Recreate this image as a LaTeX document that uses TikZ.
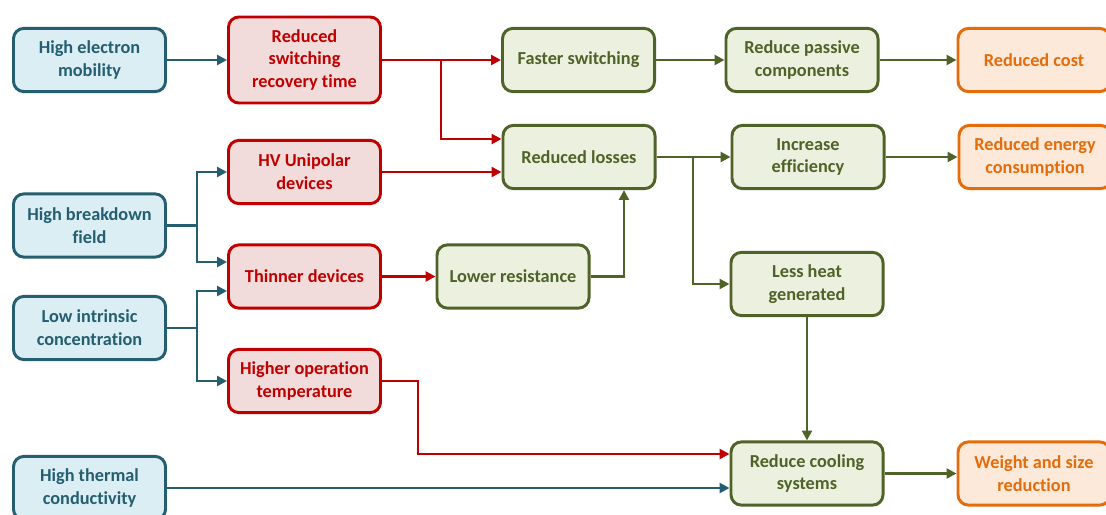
\documentclass[tikz,border=0pt]{standalone}
\usepackage{fontspec}
\setmainfont{Carlito}[Ligatures=NoCommon]
\usetikzlibrary{arrows.meta}

\definecolor{propline}{RGB}{36,94,112}
\definecolor{propfill}{RGB}{218,238,243}
\definecolor{devline}{RGB}{192,0,0}
\definecolor{devfill}{RGB}{242,220,219}
\definecolor{effline}{RGB}{79,98,40}
\definecolor{efffill}{RGB}{235,241,222}
\definecolor{gainline}{RGB}{228,108,10}
\definecolor{gainfill}{RGB}{253,233,217}

\tikzset{
  box/.style={rectangle, rounded corners=0.26cm, line width=2.1pt, align=center,
    minimum width=3.8cm, minimum height=1.58cm, inner sep=2pt,
    font=\fontsize{13}{16.2}\selectfont\bfseries},
  prop/.style={box, draw=propline, fill=propfill, text=propline},
  dev/.style={box, draw=devline, fill=devfill, text=devline},
  eff/.style={box, draw=effline, fill=efffill, text=effline},
  gain/.style={box, draw=gainline, fill=gainfill, text=gainline},
  proparr/.style={-{Triangle[length=7pt,width=7pt]}, line width=2.1pt, draw=propline},
  devarr/.style={-{Triangle[length=7pt,width=7pt]}, line width=2.1pt, draw=devline},
  effarr/.style={-{Triangle[length=7pt,width=7pt]}, line width=2.1pt, draw=effline},
}

\begin{document}
\begin{tikzpicture}[x=0.025cm, y=-0.025cm]
    \useasboundingbox (0,0) rectangle (1106,514);

    % material properties
    \node[prop](mob)at(89.5,60){High electron\\mobility};
    \node[prop](fld)at(89.5,225.5){High breakdown\\field};
    \node[prop](low)at(89.5,328){Low intrinsic\\concentration};
    \node[prop](therm)at(89.5,488){High thermal\\conductivity};

    % device level
    \node[dev, minimum height=2.15cm](swi)at(304.5,60){Reduced\\switching\\recovery time};
    \node[dev](hv)at(304.5,172){HV Unipolar\\devices};
    \node[dev](thin)at(304.5,276.5){Thinner devices};
    \node[dev](hot)at(304.5,381){Higher operation\\temperature};

    % effects
    \node[eff](fast)at(578.5,60){Faster switching};
    \node[eff](pass)at(802,60){Reduce passive\\components};
    \node[eff](loss)at(579,157){Reduced losses};
    \node[eff](effy)at(808,157){Increase\\efficiency};
    \node[eff](res)at(513,276.5){Lower resistance};
    \node[eff](heat)at(807,284){Less heat\\generated};
    \node[eff](cool)at(807,473.5){Reduce cooling\\systems};

    % benefits
    \node[gain](cost)at(1034,60){Reduced cost};
    \node[gain](enrg)at(1035,157){Reduced energy\\consumption};
    \node[gain](wsr)at(1034,473.5){Weight and size\\reduction};

    % branch points
    \coordinate(sw)at(441,60);
    \coordinate(fk)at(197,225.5);
    \coordinate(lk)at(197,328);
    \coordinate(rk)at(624,0);
    \coordinate(lb)at(693,157);
    \coordinate(hk)at(418,0);

    \draw[proparr](mob)--(swi);
    \draw[devarr](swi.east)--(fast.west);
    \draw[devarr](sw)|-(loss.west |- 0,139);
    \draw[devarr](hv.east)--(hv.east -| loss.west);

    \draw[proparr](fld.east)--(fk)|-(hv.west);
    \draw[proparr](fk)|-(thin.west |- 0,262);
    \draw[proparr](low.east)--(lk)|-(thin.west |- 0,291);
    \draw[proparr](lk)|-(hot.west);

    \draw[devarr](thin)--(res);
    \draw[effarr](res.east)-|(loss.south -| rk);

    \draw[effarr](fast)--(pass);
    \draw[effarr](pass)--(cost);
    \draw[effarr](loss)--(effy);
    \draw[effarr](lb)|-(heat.west);
    \draw[effarr](effy)--(enrg);
    \draw[effarr](heat)--(cool);

    \draw[devarr](hot.east)--(hot.east -| hk)|-(cool.west |- 0,454);
    \draw[proparr](therm.east)--(therm.east -| cool.west);
    \draw[effarr](cool)--(wsr);
\end{tikzpicture}
\end{document}
